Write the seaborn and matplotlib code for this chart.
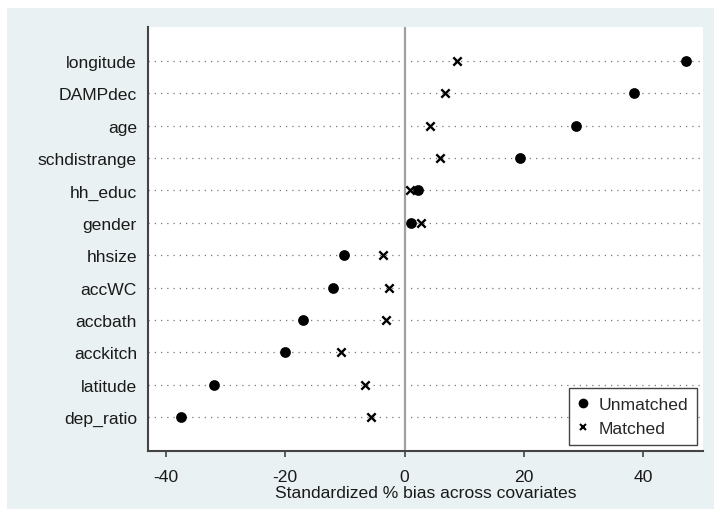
import matplotlib
matplotlib.use("Agg")
import matplotlib.pyplot as plt
from matplotlib.patches import Rectangle
from matplotlib.lines import Line2D
import seaborn as sns
import pandas as pd

covariates = ["longitude", "DAMPdec", "age", "schdistrange", "hh_educ", "gender",
              "hhsize", "accWC", "accbath", "acckitch", "latitude", "dep_ratio"]
unmatched = [47.1, 38.4, 28.7, 19.3, 2.2, 1.0, -10.2, -12.0, -17.0, -20.1, -32.0, -37.4]
matched = [8.7, 6.8, 4.2, 5.9, 0.9, 2.7, -3.7, -2.7, -3.2, -10.6, -6.6, -5.7]
xticks = [-40, -20, 0, 20, 40]
xlabel = "Standardized % bias across covariates"

df_u = pd.DataFrame({"covariate": covariates, "bias": unmatched})
df_m = pd.DataFrame({"covariate": covariates, "bias": matched})

sns.set_style("white")
plt.rcParams["font.family"] = ["Liberation Sans", "DejaVu Sans"]
plt.rcParams["font.size"] = 12.6

fig = plt.figure(figsize=(7.14, 5.10), dpi=100, facecolor="white")
bg = "#eaf1f2"
fig.patches.append(Rectangle((7 / 714, 0), 1 - 7 / 714, 1 - 9 / 510,
                             transform=fig.transFigure, facecolor=bg,
                             edgecolor="none", zorder=-10))
ax = fig.add_axes([148 / 714, 1 - 452 / 510, 555 / 714, 424 / 510])
ax.set_facecolor("white")

# dotted row guides
for i in range(len(covariates)):
    ax.axhline(i, color="#777777", linestyle=(0, (1, 4)), linewidth=0.9, zorder=1)
ax.axvline(0, color="#a0a0a0", linewidth=1.6, zorder=1)

sns.scatterplot(data=df_u, x="bias", y="covariate", marker="o", s=60,
                color="black", edgecolor="black", linewidth=0, ax=ax, zorder=3)
sns.scatterplot(data=df_m, x="bias", y="covariate", marker="x", s=36,
                color="black", linewidth=1.7, ax=ax, zorder=3)

ax.set_xlim(-43, 50)
ax.set_ylim(len(covariates) - 1 + 1.05, -1.05)
ax.set_xticks(xticks)
ax.set_xticklabels([str(t) for t in xticks])
ax.set_xlabel(xlabel, labelpad=1, color="#1a1a1a")
ax.set_ylabel("")

for s in ["top", "right"]:
    ax.spines[s].set_visible(False)
for s in ["left", "bottom"]:
    ax.spines[s].set_color("#444444")
    ax.spines[s].set_linewidth(1.5)

ax.tick_params(axis="x", direction="out", length=4, width=1.2, color="#444444",
               labelcolor="#1a1a1a", pad=9, bottom=True)
ax.tick_params(axis="y", length=0, pad=8, labelcolor="#1a1a1a")

handles = [Line2D([], [], marker="o", color="black", linestyle="none", markersize=6),
           Line2D([], [], marker="x", color="black", linestyle="none", markersize=5,
                  markeredgewidth=1.5)]
leg = ax.legend(handles, ["Unmatched", "Matched"], loc="lower right",
                bbox_to_anchor=(0.989, 0.014), frameon=True, fancybox=False,
                edgecolor="#444444", framealpha=1, handlelength=0.6,
                handletextpad=0.6, borderpad=0.5, labelspacing=0.5,
                borderaxespad=0)
leg.get_frame().set_linewidth(1.0)

fig.savefig("out.png", dpi=100, facecolor="white")
